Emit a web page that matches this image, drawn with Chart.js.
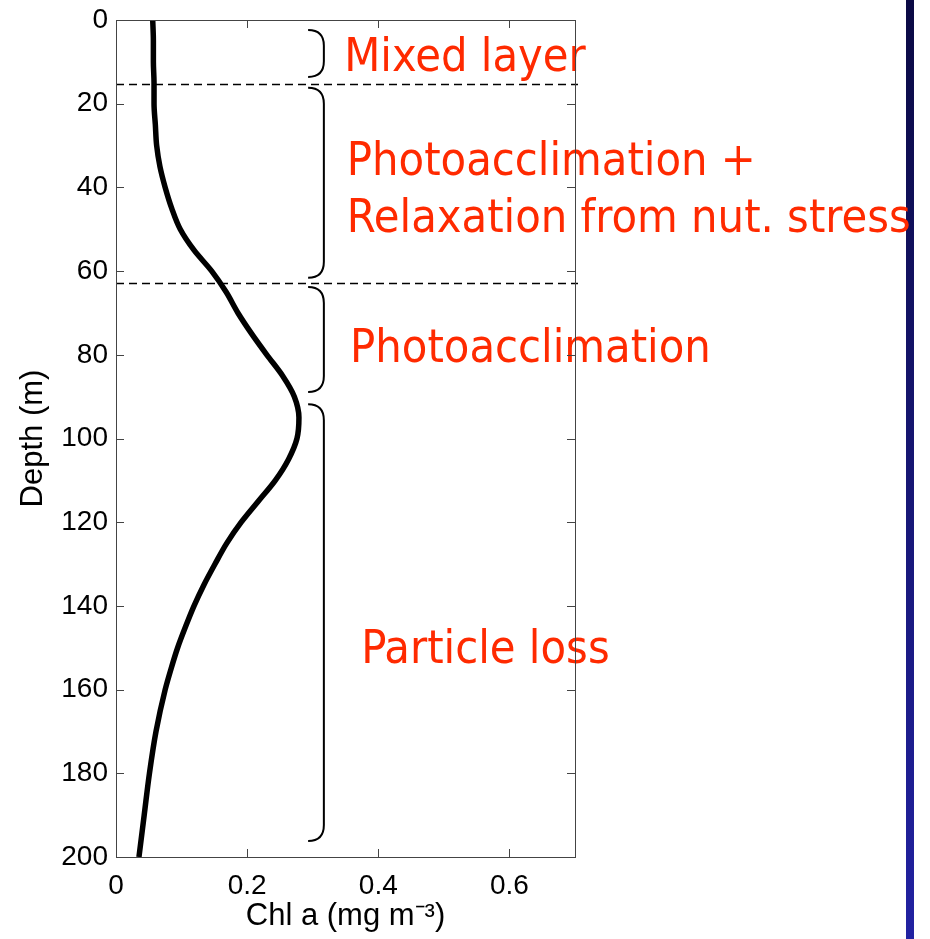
<!DOCTYPE html>
<html>
<head>
<meta charset="utf-8">
<script src="https://cdn.jsdelivr.net/npm/chart.js@4"></script>
<style>
  body { margin: 0; background: #fff; }
  #wrap { width: 930px; height: 939px; }
</style>
</head>
<body>
<div id="wrap"><canvas id="profile" width="930" height="939"></canvas></div>
<script>
// chlorophyll profile, depth in m, Chl a in mg m-3
const depth = [0, 5, 10, 15, 20, 25, 30, 35, 40, 45, 50, 55, 60, 65, 70, 75, 80, 85, 90, 95,
  100, 105, 110, 115, 120, 125, 130, 135, 140, 145, 150, 155, 160, 170, 180, 190, 200];
const chl = [0.056, 0.057, 0.057, 0.058, 0.058, 0.060, 0.062, 0.067, 0.075, 0.085, 0.098, 0.119, 0.146, 0.168, 0.186, 0.207, 0.230, 0.254, 0.272, 0.279,
  0.276, 0.263, 0.243, 0.217, 0.191, 0.169, 0.151, 0.134, 0.119, 0.106, 0.094, 0.084, 0.075, 0.061, 0.051, 0.043, 0.035];

const xTicks = [0, 0.2, 0.4, 0.6];
const yTicks = [0, 20, 40, 60, 80, 100, 120, 140, 160, 180, 200];

// layer boundaries (dashed) and the depth range each brace spans
const boundaries = [15.3, 62.8];
const braceTop = [2.4, 16.2, 63.8, 91.8];
const braceBottom = [13.6, 61.6, 88.9, 196.2];
const layerNames = ['Mixed layer', 'Photoacclimation +', 'Relaxation from nut. stress', 'Photoacclimation', 'Particle loss'];

// where the layer names sit (x in Chl units, y = baseline depth)
const notePos = [[0.348, 12.2], [0.352, 37.0], [0.352, 50.7], [0.357, 81.7], [0.374, 153.6]];

const points = depth.map((d, i) => ({ x: chl[i], y: d }));

const decor = {
  id: 'decor',
  beforeDraw(chart) {
    const c = chart.ctx;
    // slide edge bar on the right
    const g = c.createLinearGradient(0, 0, 0, chart.height);
    g.addColorStop(0, '#0b0a44');
    g.addColorStop(1, '#2222a2');
    c.save();
    c.fillStyle = g;
    c.fillRect(906, 0, 8, chart.height);
    c.restore();
  },
  beforeDatasetsDraw(chart) {
    const c = chart.ctx;
    const xs = chart.scales.x, ys = chart.scales.y;
    const a = chart.chartArea;
    c.save();
    // dashed boundaries
    c.strokeStyle = '#000';
    c.lineWidth = 1.5;
    c.setLineDash([8, 5]);
    boundaries.forEach(d => {
      const y = Math.round(ys.getPixelForValue(d)) + 0.5;
      c.beginPath();
      c.moveTo(a.left, y);
      c.lineTo(a.right + 3, y);
      c.stroke();
    });
    c.setLineDash([]);
    // braces
    const tip = xs.getPixelForValue(0.293);
    const spine = xs.getPixelForValue(0.317);
    c.lineWidth = 2;
    braceTop.forEach((t, i) => {
      const y0 = ys.getPixelForValue(t);
      const y1 = ys.getPixelForValue(braceBottom[i]);
      const r = Math.min(16, (y1 - y0) / 3);
      c.beginPath();
      c.moveTo(tip, y0);
      c.quadraticCurveTo(spine, y0, spine, y0 + r);
      c.lineTo(spine, y1 - r);
      c.quadraticCurveTo(spine, y1, tip, y1);
      c.stroke();
    });
    // layer names
    c.fillStyle = '#ff2a00';
    c.font = "46.5px 'DejaVu Sans Condensed', 'DejaVu Sans'";
    c.textBaseline = 'alphabetic';
    c.textAlign = 'left';
    layerNames.forEach((t, i) => {
      c.fillText(t, xs.getPixelForValue(notePos[i][0]), ys.getPixelForValue(notePos[i][1]));
    });
    c.restore();
  },
  afterDraw(chart) {
    const c = chart.ctx;
    const xs = chart.scales.x, ys = chart.scales.y;
    const a = chart.chartArea;
    c.save();
    c.strokeStyle = '#444';
    c.lineWidth = 1;
    c.strokeRect(a.left + 0.5, a.top + 0.5, a.right - a.left, a.bottom - a.top);
    c.beginPath();
    yTicks.forEach(v => {
      const y = Math.round(ys.getPixelForValue(v)) + 0.5;
      c.moveTo(a.left, y); c.lineTo(a.left + 8, y);
      c.moveTo(a.right, y); c.lineTo(a.right - 8, y);
    });
    xTicks.forEach(v => {
      const x = Math.round(xs.getPixelForValue(v)) + 0.5;
      c.moveTo(x, a.bottom); c.lineTo(x, a.bottom - 8);
      c.moveTo(x, a.top); c.lineTo(x, a.top + 8);
    });
    c.stroke();
    c.restore();
  }
};

new Chart(document.getElementById('profile'), {
  type: 'line',
  data: {
    datasets: [{
      data: points,
      borderColor: '#000',
      borderWidth: 5.5,
      pointRadius: 0,
      cubicInterpolationMode: 'monotone',
      fill: false
    }]
  },
  options: {
    responsive: false,
    animation: false,
    indexAxis: 'y',
    layout: { padding: { top: 20, right: 355, left: 0, bottom: 0 } },
    plugins: { legend: { display: false }, tooltip: { enabled: false } },
    scales: {
      x: {
        type: 'linear',
        min: 0,
        max: 0.7,
        afterBuildTicks: s => { s.ticks = xTicks.map(v => ({ value: v })); },
        afterFit: s => { s.height = 82; s.paddingLeft = 0; s.paddingRight = 0; },
        grid: { display: false, drawTicks: false },
        border: { display: false },
        ticks: {
          padding: 12,
          color: '#000',
          font: { family: "'Liberation Sans', Arial", size: 28 },
          callback: v => String(v)
        },
        title: {
          display: true,
          text: 'Chl a (mg m\u207B\u00B3)',
          color: '#000',
          font: { family: "'Liberation Sans', Arial", size: 31 },
          padding: { top: 0, bottom: 4 }
        }
      },
      y: {
        type: 'linear',
        reverse: true,
        min: 0,
        max: 200,
        afterBuildTicks: s => { s.ticks = yTicks.map(v => ({ value: v })); },
        afterFit: s => { s.width = 116; s.paddingTop = 0; s.paddingBottom = 0; },
        grid: { display: false, drawTicks: false },
        border: { display: false },
        ticks: {
          padding: 8,
          color: '#000',
          font: { family: "'Liberation Sans', Arial", size: 28 }
        },
        title: {
          display: true,
          text: 'Depth (m)',
          color: '#000',
          font: { family: "'Liberation Sans', Arial", size: 31 },
          padding: { top: 15, bottom: 0 }
        }
      }
    }
  },
  plugins: [decor]
});
</script>
</body>
</html>
